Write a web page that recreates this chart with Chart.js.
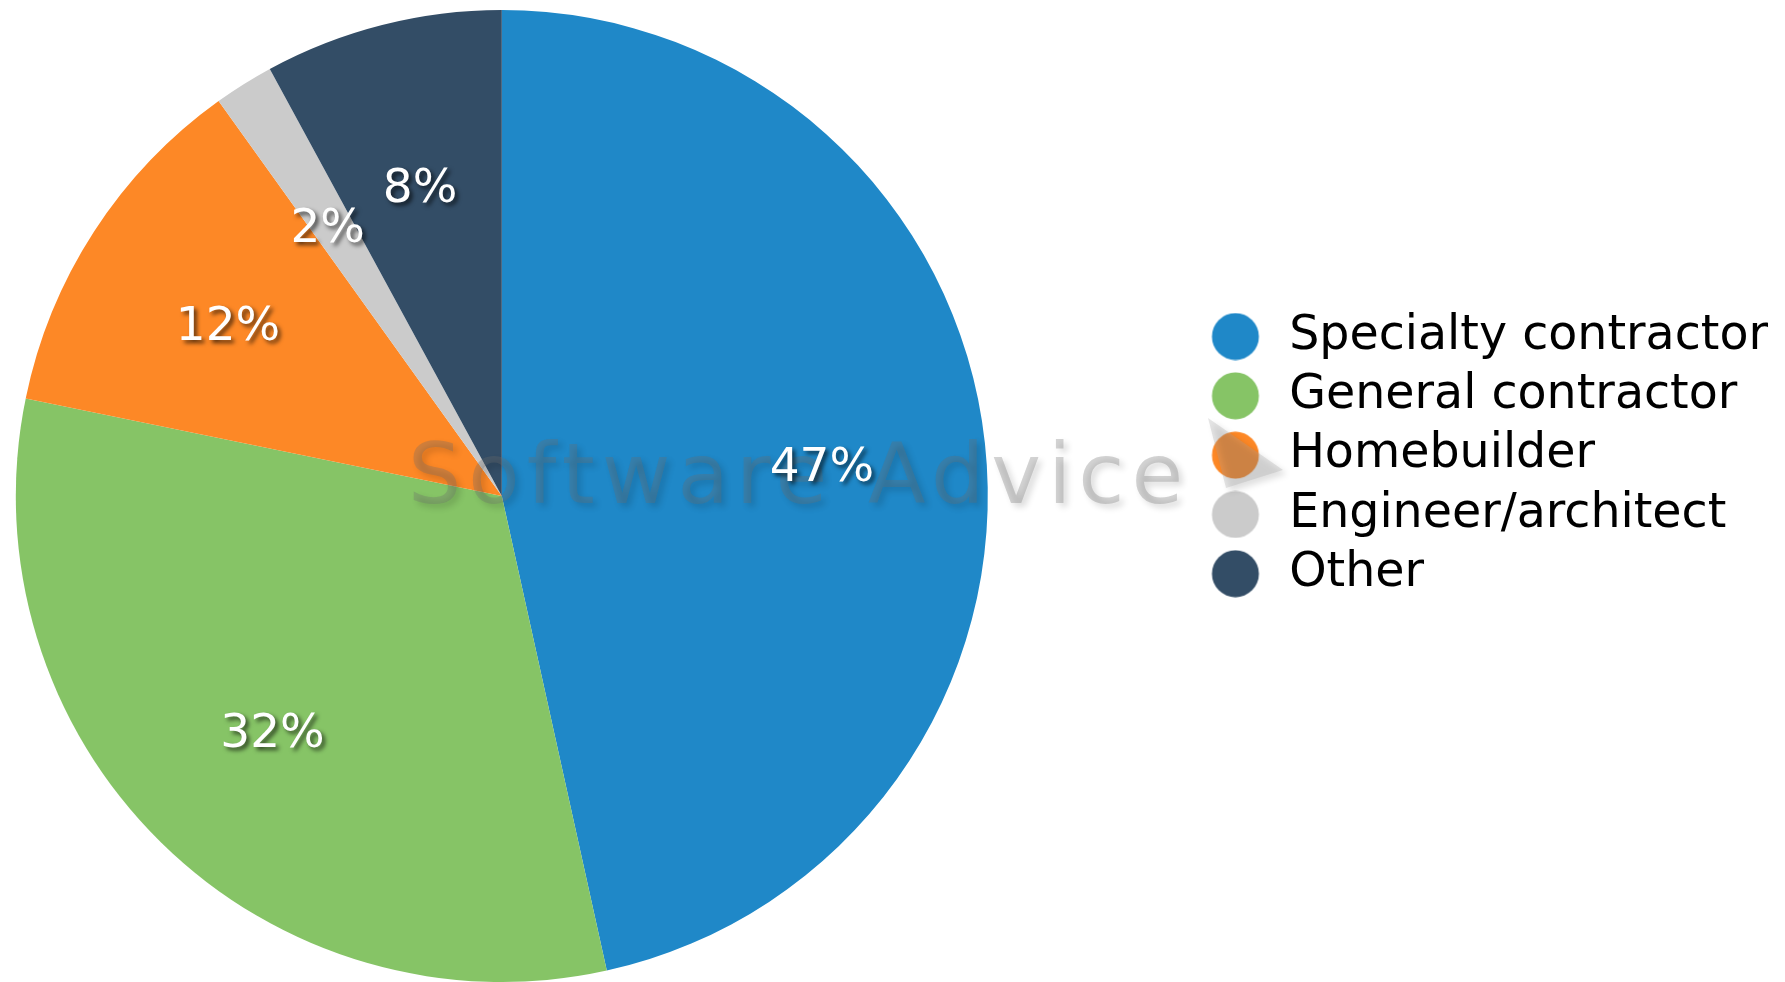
<!DOCTYPE html>
<html>
<head>
<meta charset="utf-8">
<script src="https://cdn.jsdelivr.net/npm/chart.js@4.4.1/dist/chart.umd.min.js"></script>
<style>
  html, body { margin: 0; padding: 0; background: #ffffff; }
  #wrap { width: 1785px; height: 982px; position: relative; }
</style>
</head>
<body>
<div id="wrap"><canvas id="c" width="1785" height="982"></canvas></div>
<script>
// ---- data ----
const categories = ['Specialty contractor', 'General contractor', 'Homebuilder', 'Engineer/architect', 'Other'];
const shares = [47, 32, 12, 2, 8];
const sliceColors = ['#1f88c8', '#86c466', '#fd8826', '#cbcbcb', '#334d66'];
const watermarkText = 'Software Advice';

// ---- legend markers: wide transparent box with the dot at its right end ----
const MARKER_BOX = 250;
function legendMarker(color) {
  const c = document.createElement('canvas');
  c.width = MARKER_BOX;
  c.height = 48;
  const g = c.getContext('2d');
  g.fillStyle = color;
  g.beginPath();
  g.arc(MARKER_BOX - 30, 24, 23.5, 0, Math.PI * 2);
  g.fill();
  return c;
}
const markers = sliceColors.map(legendMarker);

// ---- watermark + percentage labels ----
const overlayPlugin = {
  id: 'overlay',
  afterDatasetsDraw(chart) {
    const ctx = chart.ctx;
    ctx.save();
    ctx.font = '84px "DejaVu Sans"';
    try { ctx.letterSpacing = '7px'; } catch (e) {}
    ctx.textAlign = 'left';
    ctx.textBaseline = 'alphabetic';
    ctx.fillStyle = 'rgba(110,110,110,0.3)';
    ctx.shadowColor = 'rgba(0,0,0,0.45)';
    ctx.shadowBlur = 6;
    ctx.shadowOffsetX = 4;
    ctx.shadowOffsetY = 4;
    ctx.fillText(watermarkText, 408, 503);
    // logo triangle
    ctx.beginPath();
    ctx.moveTo(1208, 418);
    ctx.lineTo(1283, 470);
    ctx.lineTo(1226, 488);
    ctx.closePath();
    ctx.fillStyle = 'rgba(160,160,160,0.28)';
    ctx.fill();
    ctx.restore();

    const meta = chart.getDatasetMeta(0);
    const fs = 47;
    ctx.save();
    ctx.font = fs + 'px "DejaVu Sans"';
    ctx.textAlign = 'center';
    ctx.textBaseline = 'alphabetic';
    ctx.fillStyle = '#ffffff';
    ctx.shadowColor = 'rgba(0,0,0,0.65)';
    ctx.shadowBlur = 4;
    ctx.shadowOffsetX = 3;
    ctx.shadowOffsetY = 3;
    meta.data.forEach((arc, i) => {
      const p = arc.getProps(['x', 'y', 'startAngle', 'endAngle', 'outerRadius'], true);
      const mid = (p.startAngle + p.endAngle) / 2;
      const r = p.outerRadius * 2 / 3;
      const lx = p.x + Math.cos(mid) * r - 2;
      const ly = p.y + Math.sin(mid) * r + 3 + fs * 0.364;
      ctx.fillText(Math.round(shares[i]) + '%', lx, ly);
    });
    ctx.restore();
  }
};

const baseGenerate = Chart.controllers.doughnut.overrides.plugins.legend.labels.generateLabels;

new Chart(document.getElementById('c'), {
  type: 'pie',
  data: {
    labels: categories,
    datasets: [{
      data: shares,
      backgroundColor: sliceColors,
      borderWidth: 0
    }]
  },
  options: {
    responsive: false,
    animation: false,
    devicePixelRatio: 1,
    layout: { padding: { left: 0, right: 7, top: 10, bottom: 0 } },
    plugins: {
      tooltip: { enabled: false },
      legend: {
        position: 'right',
        align: 'start',
        title: { display: true, text: '', padding: { top: 281, bottom: 0 }, font: { size: 10, lineHeight: 1 } },
        labels: {
          usePointStyle: true,
          pointStyleWidth: MARKER_BOX,
          boxHeight: 33.2,
          padding: 11.8,
          color: '#000000',
          font: { family: '"DejaVu Sans"', size: 47.5 },
          generateLabels(chart) {
            const items = baseGenerate(chart);
            items.forEach((it, i) => { it.pointStyle = markers[i]; it.lineWidth = 0; });
            return items;
          }
        }
      }
    }
  },
  plugins: [overlayPlugin]
});
</script>
</body>
</html>
